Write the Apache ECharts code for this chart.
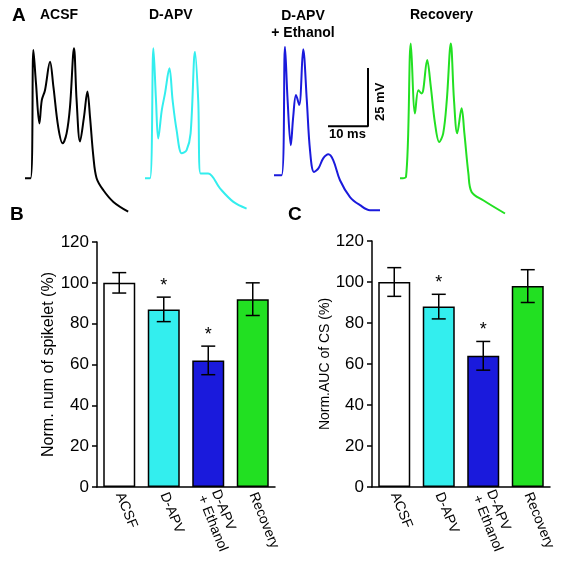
<!DOCTYPE html><html><head><meta charset="utf-8">
<script src="https://cdn.jsdelivr.net/npm/echarts@6/dist/echarts.min.js"></script>
<style>html,body{margin:0;background:#fff}#c{width:588px;height:562px}</style></head><body><div id="c"></div>
<script>
// traces: [ms, mV]
const traceACSF=[[0,0],[1.4,0],[2.1,55.2],[2.75,40.8],[3.6,23.6],[4.2,33.6],[5,37.9],[6.25,50.1],[7.1,39.4],[8.3,22.1],[9.4,15],[10.4,19.3],[11.25,30.7],[12.25,56],[12.9,33.6],[13.75,15.8],[14.75,26.4],[15.6,37.3],[16.25,26.4],[17.1,9.2],[17.9,0],[19.6,-5.2],[22.1,-10.2],[25.8,-14.4]];
const traceDAPV=[[0,0],[1.25,0],[2.1,55.9],[2.75,33.6],[3.3,17.1],[4.2,29.3],[5,36.5],[6.1,47.3],[6.9,33.6],[7.9,20.7],[9.2,10.7],[10.4,12.1],[11.4,19.3],[12.5,54.4],[13.3,33.6],[13.9,2],[15.8,2],[18.75,-4.4],[22.1,-10.2],[25.4,-13.1]];
const traceEth=[[0,1.3],[1.9,1.3],[2.75,56.6],[3.4,33.6],[4.2,14.2],[4.8,26.4],[5.5,35.8],[6.3,31.5],[7.3,55.5],[8.2,33.6],[9,12.1],[10,2.7],[11.1,4.2],[12.3,8.5],[13.6,10.3],[14.8,7.8],[16.5,-0.9],[19,-8.1],[21.5,-11.6],[24,-13.8],[26.5,-13.8]];
const traceRec=[[0,0],[1.5,0.6],[2.7,58],[3.75,27.9],[4.6,37.9],[5.4,36.5],[5.8,37.9],[6.8,50.9],[7.7,39.4],[8.75,23.6],[9.8,15.6],[10.8,19.3],[11.7,33.6],[12.7,58],[13.5,33.6],[14.3,19.3],[15.4,30.1],[16.1,19.3],[17.1,2],[17.9,-5.9],[20.8,-9.5],[26.25,-15.2]];
const scaleBar=[[23.5,47.4],[23.5,22.4],[13.5,22.4]];
// bars
const categories=['ACSF','D-APV','D-APV\n+ Ethanol','Recovery'];
const spikelet=[100,87,62,92];
const spikeletErr=[5,6,7,8];
const auc=[100,88,64,98];
const aucErr=[7,6,7,8];
const signif=[false,true,true,false];
const colors=['#ffffff','#33eeee','#1a1adc','#22e022'];

const traces=[traceACSF,traceDAPV,traceEth,traceRec];
const traceColors=['#000000','#33eeee','#1a1adc','#22e022'];
const tLeft=[25,145,274,400];
const grids=[],xAxes=[],yAxes=[],series=[];
traces.forEach((t,i)=>{
  grids.push({left:tLeft[i],top:40,width:110,height:180});
  xAxes.push({gridIndex:i,type:'value',min:0,max:27.5,show:false});
  yAxes.push({gridIndex:i,type:'value',min:-18,max:59.5,show:false});
  series.push({type:'line',xAxisIndex:i,yAxisIndex:i,data:t,showSymbol:false,smooth:0.35,lineStyle:{color:traceColors[i],width:2},silent:true});
});
series.push({type:'line',xAxisIndex:2,yAxisIndex:2,data:scaleBar,showSymbol:false,lineStyle:{color:'#000',width:2}});
const barGrids=[{left:97,right:313,top:242,bottom:75},{left:372,right:38,top:241,bottom:75}];
const barData=[[spikelet,spikeletErr],[auc,aucErr]];
const yNames=['Norm. num of spikelet (%)','Norm.AUC of CS (%)'];
barGrids.forEach((g,k)=>{
  const gi=4+k;
  grids.push(g);
  xAxes.push({gridIndex:gi,type:'category',data:categories,axisLine:{lineStyle:{color:'#000',width:1.5}},axisTick:{show:false},
    axisLabel:{rotate:-68,color:'#000',fontSize:14,fontFamily:'Liberation Sans',margin:6,lineHeight:15,align:'left'}});
  yAxes.push({gridIndex:gi,type:'value',min:0,max:120,interval:20,axisLine:{show:true,lineStyle:{color:'#000',width:1.5}},
    axisTick:{show:true,length:5,lineStyle:{color:'#000',width:1.5}},splitLine:{show:false},
    axisLabel:{color:'#000',fontSize:17,fontFamily:'Liberation Sans'},
    name:yNames[k],nameLocation:'middle',nameGap:k===0?38:33,nameTextStyle:{color:'#000',fontSize:k===0?16:14,fontFamily:'Liberation Sans'}});
  const [vals,errs]=barData[k];
  series.push({type:'bar',xAxisIndex:gi,yAxisIndex:gi,barWidth:32,z:2,
    data:vals.map((v,i)=>({value:v,itemStyle:{color:colors[i],borderColor:'#000',borderWidth:1.5}}))});
  series.push({type:'custom',xAxisIndex:gi,yAxisIndex:gi,z:10,data:vals.map((v,i)=>[i,v,errs[i],signif[i]?1:0]),
    renderItem:(p,api)=>{
      const x=api.coord([api.value(0),0])[0];
      const v=api.value(1),e=api.value(2);
      const hi=api.coord([api.value(0),v+e])[1],lo=api.coord([api.value(0),v-e])[1];
      const ch=[
        {type:'line',z2:10,shape:{x1:x,y1:hi,x2:x,y2:lo},style:{stroke:'#000',lineWidth:1.5}},
        {type:'line',z2:10,shape:{x1:x-7,y1:hi,x2:x+7,y2:hi},style:{stroke:'#000',lineWidth:1.5}},
        {type:'line',z2:10,shape:{x1:x-7,y1:lo,x2:x+7,y2:lo},style:{stroke:'#000',lineWidth:1.5}}];
      if(api.value(3))ch.push({type:'text',style:{text:'*',x:x,y:hi-2,textAlign:'center',textVerticalAlign:'bottom',fill:'#000',font:'18px Liberation Sans'}});
      return {type:'group',children:ch};
    }});
});
const tf='Liberation Sans';
const graphic=[
  {type:'text',left:12,top:6,style:{text:'A',font:'bold 19px '+tf,fill:'#000'}},
  {type:'text',left:40,top:8,style:{text:'ACSF',font:'bold 14px '+tf,fill:'#000'}},
  {type:'text',left:149,top:8,style:{text:'D-APV',font:'bold 14px '+tf,fill:'#000'}},
  {type:'text',x:303,y:8,style:{text:'D-APV\n+ Ethanol',font:'bold 14px '+tf,fill:'#000',textAlign:'center',lineHeight:17}},
  {type:'text',left:410,top:8,style:{text:'Recovery',font:'bold 14px '+tf,fill:'#000'}},
  {type:'text',left:329,top:128,style:{text:'10 ms',font:'bold 13px '+tf,fill:'#000'}},
  {type:'text',x:374,y:121,rotation:Math.PI/2,style:{text:'25 mV',font:'bold 13px '+tf,fill:'#000'}},
  {type:'text',left:10,top:205,style:{text:'B',font:'bold 19px '+tf,fill:'#000'}},
  {type:'text',left:288,top:205,style:{text:'C',font:'bold 19px '+tf,fill:'#000'}}
];
const ch=echarts.init(document.getElementById('c'));
ch.setOption({animation:false,grid:grids,xAxis:xAxes,yAxis:yAxes,series,graphic});
</script></body></html>
